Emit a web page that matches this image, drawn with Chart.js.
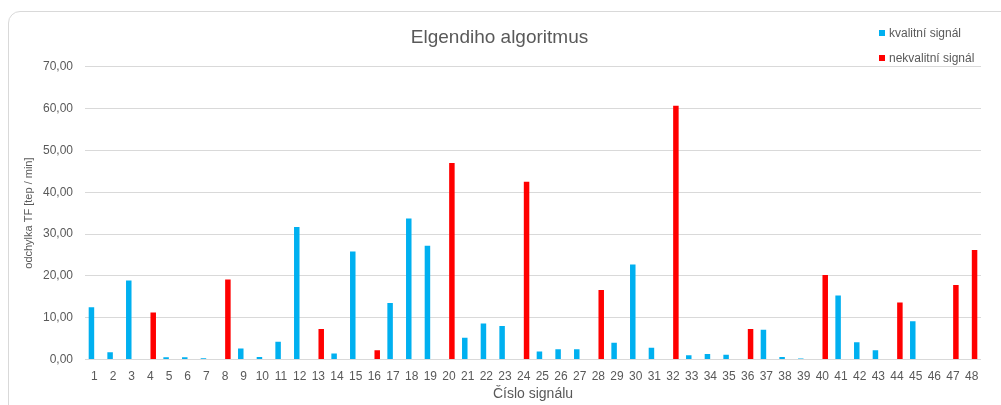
<!DOCTYPE html>
<html>
<head>
<meta charset="utf-8">
<script src="https://cdn.jsdelivr.net/npm/chart.js@4/dist/chart.umd.min.js"></script>
<style>
  html, body { margin: 0; padding: 0; background: #fff; }
  body { width: 1001px; height: 405px; position: relative; overflow: hidden; font-family: "Liberation Sans", Arial, sans-serif; }
  .card { position: absolute; left: 8px; top: 11px; width: 1100px; height: 500px; border: 1px solid #d9d9d9; border-radius: 12px; }
  .wrap { position: absolute; left: 0; top: 0; width: 1001px; height: 405px; }
  .legend { position: absolute; left: 879px; top: 25px; font-size: 12px; color: #595959; }
  .legend div { height: 25px; line-height: 16px; white-space: nowrap; }
  .legend span { display: inline-block; width: 6px; height: 6px; margin-right: 4px; vertical-align: 1px; }
</style>
</head>
<body>
<div class="card"></div>
<div class="wrap"><canvas id="chart"></canvas></div>
<div class="legend">
  <div><span style="background:#00B0F0"></span>kvalitní signál</div>
  <div><span style="background:#FF0000"></span>nekvalitní signál</div>
</div>
<script>
// data
const categories = ['1','2','3','4','5','6','7','8','9','10','11','12','13','14','15','16','17','18','19','20','21','22','23','24',
                    '25','26','27','28','29','30','31','32','33','34','35','36','37','38','39','40','41','42','43','44','45','46','47','48'];
const kvalitni = [12.5, 1.7, 18.9, null, 0.5, 0.5, 0.3, null, 2.6, 0.6, 4.2, 31.7,
                  null, 1.4, 25.8, null, 13.5, 33.7, 27.2, null, 5.2, 8.6, 8.0, null,
                  1.9, 2.4, 2.4, null, 4.0, 22.7, 2.8, null, 1.0, 1.3, 1.1, null,
                  7.1, 0.6, 0.2, null, 15.3, 4.1, 2.2, null, 9.1, null, null, null];
const nekvalitni = [null, null, null, 11.2, null, null, null, 19.1, null, null, null, null,
                    7.3, null, null, 2.2, null, null, null, 47.0, null, null, null, 42.5,
                    null, null, null, 16.6, null, null, null, 60.7, null, null, null, 7.3,
                    null, null, null, 20.2, null, null, null, 13.6, null, null, 17.8, 26.2];
const yTicks = [0, 10, 20, 30, 40, 50, 60, 70];

const textColor = '#595959';
const fontFamily = '"Liberation Sans", Arial, sans-serif';

const ctx = document.getElementById('chart').getContext('2d');
new Chart(ctx, {
    type: 'bar',
    data: {
        labels: categories,
        datasets: [
            { label: 'kvalitní signál', data: kvalitni, backgroundColor: '#00B0F0' },
            { label: 'nekvalitní signál', data: nekvalitni, backgroundColor: '#FF0000' }
        ]
    },
    options: {
        responsive: true,
        maintainAspectRatio: false,
        animation: false,
        categoryPercentage: 0.62,
        barPercentage: 0.95,
        layout: { padding: { left: 18, right: 20, top: 0, bottom: 0 } },
        plugins: {
            legend: { display: false },
            tooltip: { enabled: false },
            title: {
                display: true,
                text: 'Elgendiho algoritmus',
                color: textColor,
                font: { family: fontFamily, size: 19, weight: 'normal' },
                padding: { top: 26, bottom: 18 }
            }
        },
        scales: {
            x: {
                grid: { display: false, drawTicks: false },
                border: { display: false },
                ticks: { color: textColor, font: { family: fontFamily, size: 12 }, padding: 10, maxRotation: 0, autoSkip: false },
                title: {
                    display: true,
                    text: 'Číslo signálu',
                    color: textColor,
                    font: { family: fontFamily, size: 14 },
                    padding: { top: 0, bottom: 2 }
                },
                afterFit: function(scale) { scale.height = 45.6; }
            },
            y: {
                min: 0,
                max: 70,
                afterBuildTicks: function(scale) { scale.ticks = yTicks.map(v => ({ value: v })); },
                grid: { color: '#d9d9d9', drawTicks: false },
                border: { display: false },
                ticks: {
                    color: textColor,
                    font: { family: fontFamily, size: 12 },
                    padding: 12,
                    callback: v => v.toFixed(2).replace('.', ',')
                },
                title: {
                    display: true,
                    text: 'odchylka TF [tep / min]',
                    color: textColor,
                    font: { family: fontFamily, size: 11 },
                    padding: { top: 4, bottom: 4 }
                },
                afterFit: function(scale) { scale.width = 67; }
            }
        }
    }
});
</script>
</body>
</html>
